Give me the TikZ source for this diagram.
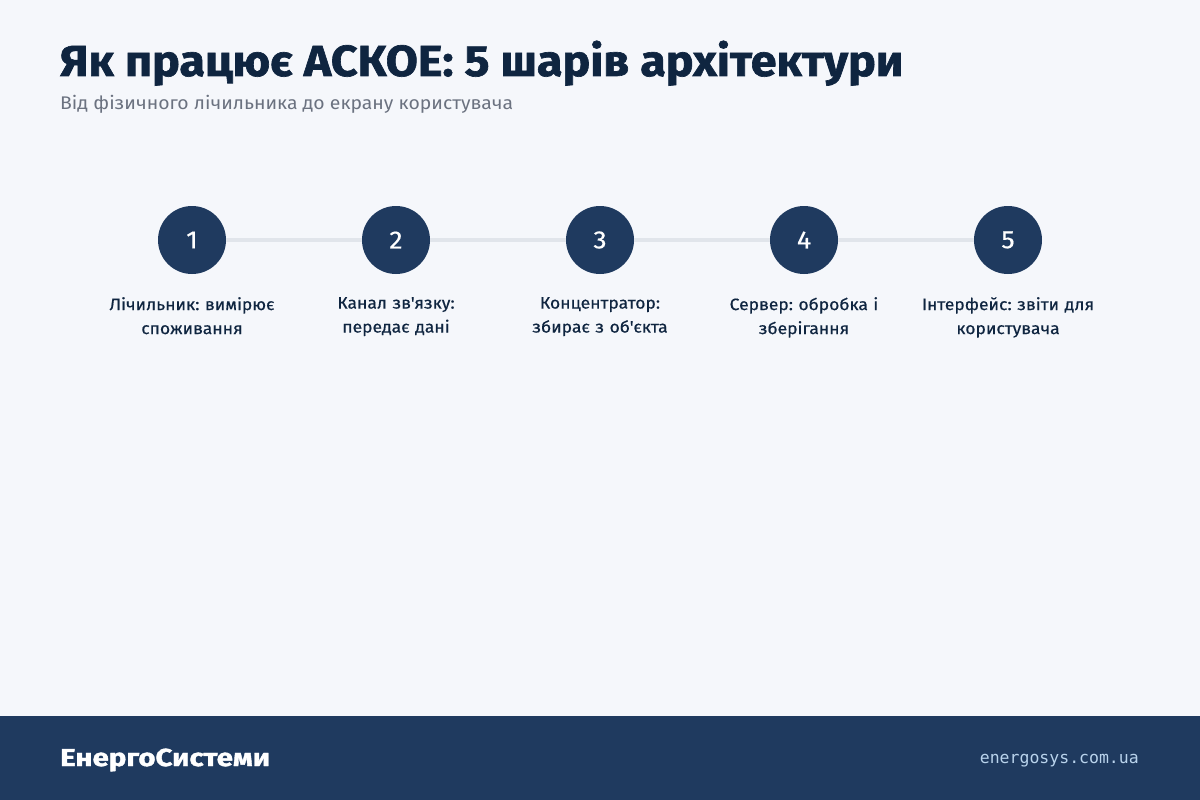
\documentclass[tikz,border=0pt]{standalone}
\usepackage{fontspec}
\setmainfont{Fira Sans}
\newfontfamily\headfont[FakeStretch=1.07,FakeBold=1.5]{Fira Sans}
\newfontfamily\brandfont[FakeStretch=1.2,FakeBold=1.5]{Fira Sans}
\newfontfamily\leadfont[FakeStretch=1.06]{Fira Sans}
\newfontfamily\labelfont[FakeStretch=1.06,FakeBold=0.5]{Fira Sans}
\newfontfamily\monofont{DejaVu Sans Mono}
\usetikzlibrary{positioning}
\frenchspacing

\definecolor{pagebg}{HTML}{F5F7FB}
\definecolor{navy}{HTML}{1F3A5F}
\definecolor{titleink}{HTML}{0F2540}
\definecolor{greyink}{HTML}{6B7280}
\definecolor{railgrey}{HTML}{E1E5EB}
\definecolor{urlblue}{HTML}{B9D3EC}

\tikzset{
	layer/.style={circle,fill=navy,minimum size=68pt,inner sep=0pt,
		text=white,font=\labelfont\fontsize{25}{25}\selectfont},
	caption/.style={text width=200pt,align=center,text=titleink,
		font=\labelfont\fontsize{16.5}{24}\selectfont,inner sep=0pt,anchor=north},
	rail/.style={draw=railgrey,line width=4pt}
}

\begin{document}
\begin{tikzpicture}[x=1pt,y=-1pt]

	% Page
	\fill[pagebg] (0,0) rectangle (1200,800);
	\useasboundingbox (0,0) rectangle (1200,800);

	% Heading
	\node[anchor=base west,inner sep=0pt,text=titleink,
		font=\headfont\fontsize{43.5}{43.5}\selectfont\bfseries] (title) at (60,76)
		{Як працює АСКОЕ: 5 шарів архітектури};
	\node[anchor=base west,inner sep=0pt,text=greyink,
		font=\leadfont\fontsize{18.3}{18.3}\selectfont] (subtitle) at (60,110)
		{Від фізичного лічильника до екрану користувача};

	% Layers
	\foreach \i/\x in {1/192,2/396,3/600,4/804,5/1008} {
		\node[layer] (layer\i) at (\x,240) {\i};
	}

	% Rail between layers
	\foreach \i/\j in {1/2,2/3,3/4,4/5} {
		\draw[rail] (layer\i) -- (layer\j);
	}

	% Captions
	\node[caption] (cap1) at (192,297) {Лічильник: вимірює\\споживання};
	\node[caption] (cap2) at (396,297) {Канал зв{\char"0027}язку:\\передає дані};
	\node[caption] (cap3) at (600,297) {Концентратор:\\збирає з об{\char"0027}єкта};
	\node[caption] (cap4) at (804,297) {Сервер: обробка і\\зберігання};
	\node[caption] (cap5) at (1008,297) {Інтерфейс: звіти для\\користувача};

	% Footer
	\fill[navy] (0,716) rectangle (1200,800);
	\node[anchor=base west,inner sep=0pt,text=white,
		font=\brandfont\fontsize{24.5}{24.5}\selectfont\bfseries] (brand) at (60,766)
		{ЕнергоСистеми};
	\node[anchor=base east,inner sep=0pt,text=urlblue,
		font=\monofont\fontsize{16.5}{16.5}\selectfont] (url) at (1139,763)
		{energosys.com.ua};

\end{tikzpicture}
\end{document}
